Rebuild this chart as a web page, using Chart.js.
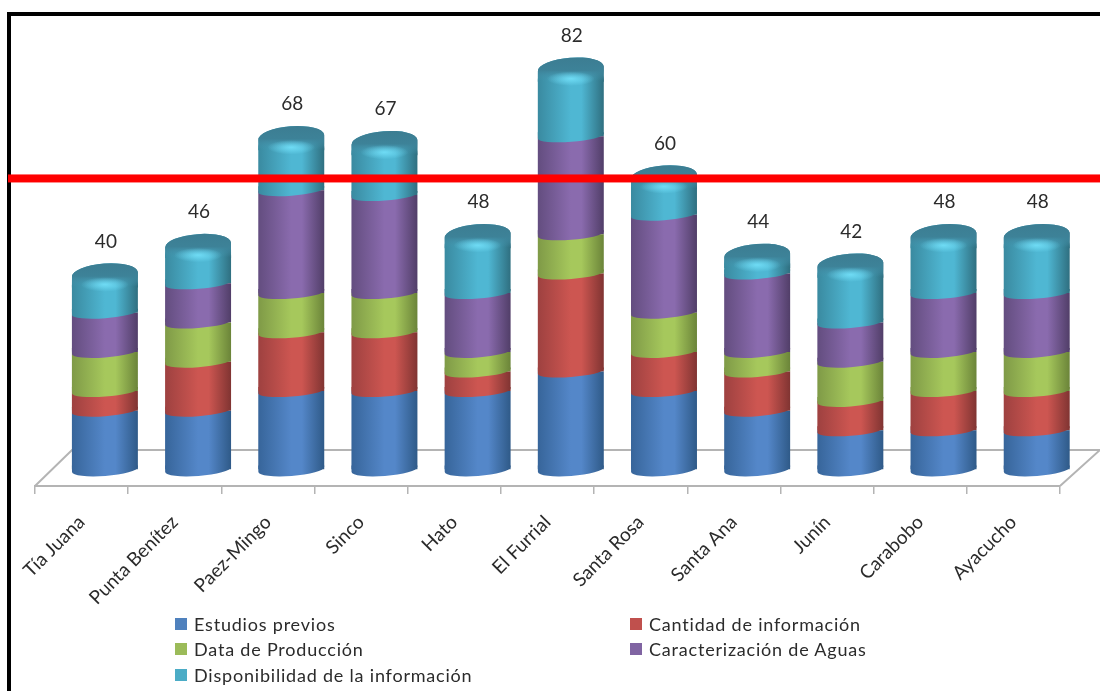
<!DOCTYPE html>
<html>
<head>
<meta charset="utf-8">
<script src="https://cdn.jsdelivr.net/npm/chart.js@4"></script>
<style>
    html, body { margin: 0; padding: 0; background: #fff; overflow: hidden; }
    #wrap { position: relative; width: 1100px; height: 691px; }
    #legend div { position: absolute; font: 18px Lato, sans-serif; letter-spacing: 0.8px; color: #2b2b2b; white-space: nowrap; line-height: 22px; }
    #legend i { position: absolute; left: -19px; top: 5px; width: 12px; height: 12px; }
</style>
</head>
<body>
<div id="wrap">
    <canvas id="chart" width="1100" height="691"></canvas>
    <div id="legend"></div>
</div>
<script>
const categories = ["Tía Juana", "Punta Benítez", "Paez-Mingo", "Sinco", "Hato", "El Furrial", "Santa Rosa", "Santa Ana", "Junín", "Carabobo", "Ayacucho"];
const estudiosPrevios = [12, 12, 16, 16, 16, 20, 16, 12, 8, 8, 8];
const cantidadInformacion = [4, 10, 12, 12, 4, 20, 8, 8, 6, 8, 8];
const dataProduccion = [8, 8, 8, 8, 4, 8, 8, 4, 8, 8, 8];
const caracterizacionAguas = [8, 8, 21, 20, 12, 20, 20, 16, 8, 12, 12];
const disponibilidad = [8, 8, 11, 11, 12, 14, 8, 4, 12, 12, 12];
const totals = [40, 46, 68, 67, 48, 82, 60, 44, 42, 48, 48];
const referenceLine = 59.5;

const seriesNames = ["Estudios previos", "Cantidad de información", "Data de Producción", "Caracterización de Aguas", "Disponibilidad de la información"];
const seriesValues = [estudiosPrevios, cantidadInformacion, dataProduccion, caracterizacionAguas, disponibilidad];
const swatches = ["#4f81bd", "#c0504d", "#9bbb59", "#8064a2", "#4bacc6"];
const shades = [
    ["#37659a", "#5487c9", "#5487c9", "#2f5a88"],
    ["#9e4140", "#cd5651", "#cd5651", "#803432"],
    ["#7f9a47", "#a6c85c", "#a6c85c", "#6b8439"],
    ["#634d7f", "#8a6bae", "#8a6bae", "#513e68"],
    ["#3a8aa0", "#4fb7d3", "#4fb7d3", "#2f6f80"]
];

// the bars stand in the middle of the floor, behind the front axis line
const shiftX = 23.3;
const shiftY = 16.5;
const tilt = -0.075;
const labelFont = "19px Lato, sans-serif";

function barGradient(ctx, x, half, colors) {
    const g = ctx.createLinearGradient(x - half, 0, x + half, 0);
    g.addColorStop(0, colors[0]);
    g.addColorStop(0.5, colors[1]);
    g.addColorStop(0.66, colors[2]);
    g.addColorStop(1, colors[3]);
    return g;
}

function drawLowerArc(ctx, bar, colors, ry) {
    const half = bar.width / 2;
    ctx.save();
    ctx.fillStyle = barGradient(ctx, bar.x, half, colors);
    ctx.beginPath();
    ctx.moveTo(bar.x + half, bar.base - 4);
    ctx.ellipse(bar.x, bar.base, half, ry, tilt, 0, Math.PI);
    ctx.lineTo(bar.x - half, bar.base - 4);
    ctx.closePath();
    ctx.fill();
    ctx.restore();
}

function capPath(ctx, bar, bodyDepth) {
    const half = bar.width / 2;
    ctx.beginPath();
    ctx.ellipse(bar.x, bar.y + 1, half, 11, tilt, Math.PI, Math.PI * 2);
    ctx.lineTo(bar.x + half, bar.y + bodyDepth);
    ctx.lineTo(bar.x - half, bar.y + bodyDepth);
    ctx.closePath();
}

function drawCap(ctx, bar, colors) {
    const half = bar.width / 2;
    const depth = Math.min(14, bar.height + 2);
    ctx.save();
    ctx.fillStyle = barGradient(ctx, bar.x, half, colors);
    capPath(ctx, bar, depth);
    ctx.fill();
    // dark top melts into the body
    const dark = ctx.createLinearGradient(0, bar.y - 10, 0, bar.y + 13);
    dark.addColorStop(0, "#3c7d92");
    dark.addColorStop(0.55, "#3d8298");
    dark.addColorStop(1, "rgba(70,150,175,0)");
    ctx.fillStyle = dark;
    capPath(ctx, bar, depth);
    ctx.fill();
    ctx.restore();
    ctx.save();
    ctx.translate(bar.x, bar.y + 11);
    ctx.scale(1, 0.3);
    const glow = ctx.createRadialGradient(0, 0, 1, 0, 0, 24);
    glow.addColorStop(0, "rgba(115,225,250,0.85)");
    glow.addColorStop(1, "rgba(115,225,250,0)");
    ctx.fillStyle = glow;
    ctx.beginPath();
    ctx.arc(0, 0, 24, 0, Math.PI * 2);
    ctx.fill();
    ctx.restore();
}

const cylinders = {
    id: "cylinders",
    beforeDraw(chart) {
        const { ctx, chartArea } = chart;
        const b = chartArea.bottom;
        // outer frame of the slide
        ctx.save();
        ctx.fillStyle = "#000";
        ctx.fillRect(7, 12, 1093, 4);
        ctx.fillRect(7, 12, 4, 679);
        ctx.restore();
        // floor
        ctx.save();
        ctx.strokeStyle = "#b4b4b4";
        ctx.lineWidth = 2;
        ctx.beginPath();
        ctx.moveTo(chartArea.left, b);
        ctx.lineTo(chartArea.left + 37, b - 36);
        ctx.lineTo(1100, b - 36);
        ctx.moveTo(chartArea.right, b);
        ctx.lineTo(chartArea.right + 40, b - 36);
        ctx.stroke();
        ctx.restore();
    },
    beforeDatasetsDraw(chart) {
        chart.ctx.save();
        chart.ctx.translate(shiftX, -shiftY);
    },
    afterDatasetsDraw(chart) {
        const { ctx, scales } = chart;
        // Chart.js paints the top of the stack first, so the curved
        // joints go on afterwards, from the bottom up
        seriesNames.forEach((name, i) => {
            chart.getDatasetMeta(i).data.forEach((bar) => drawLowerArc(ctx, bar, shades[i], i === 0 ? 6.5 : 5.5));
        });
        const top = seriesNames.length - 1;
        chart.getDatasetMeta(top).data.forEach((bar) => drawCap(ctx, bar, shades[top]));
        ctx.restore();
        // totals over the cylinders
        ctx.save();
        ctx.font = labelFont;
        ctx.fillStyle = "#2b2b2b";
        ctx.textAlign = "center";
        ctx.textBaseline = "middle";
        totals.forEach((t, i) => {
            ctx.fillText(String(t), scales.x.getPixelForValue(i) + shiftX + 1, scales.y.getPixelForValue(t) - shiftY - 32);
        });
        ctx.restore();
        // red reference line
        ctx.save();
        ctx.fillStyle = "#ff0000";
        const y = scales.y.getPixelForValue(referenceLine) - shiftY;
        ctx.fillRect(8, y - 3.5, 1092, 8);
        ctx.restore();
    }
};

const datasets = seriesNames.map((name, i) => ({
    label: name,
    data: seriesValues[i],
    backgroundColor(c) {
        const chart = c.chart;
        if (!chart.chartArea || c.dataIndex === undefined) return swatches[i];
        const band = (chart.chartArea.right - chart.chartArea.left) / categories.length;
        const x = chart.scales.x.getPixelForValue(c.dataIndex);
        return barGradient(chart.ctx, x, band * 0.354, shades[i]);
    },
    borderWidth: 0,
    borderRadius: i === seriesNames.length - 1 ? { topLeft: 12, topRight: 12 } : 0,
    borderSkipped: false,
    categoryPercentage: 1,
    barPercentage: 0.708
}));

new Chart(document.getElementById("chart").getContext("2d"), {
    type: "bar",
    data: { labels: categories, datasets: datasets },
    plugins: [cylinders],
    options: {
        responsive: false,
        animation: false,
        layout: { padding: { left: 35, right: 40, top: 45, bottom: 0 } },
        plugins: {
            legend: { display: false },
            tooltip: { enabled: false }
        },
        scales: {
            x: {
                stacked: true,
                afterFit(scale) {
                    scale.height = 205;
                    scale.paddingLeft = 0;
                    scale.paddingRight = 0;
                },
                border: { color: "#b4b4b4", width: 2 },
                grid: { drawOnChartArea: false, drawTicks: true, tickLength: 8, color: "#b4b4b4", lineWidth: 1.5, offset: true },
                ticks: {
                    autoSkip: false,
                    minRotation: 45,
                    maxRotation: 45,
                    padding: 17,
                    color: "#2b2b2b",
                    font: { family: "Lato, sans-serif", size: 19 }
                }
            },
            y: {
                stacked: true,
                display: false,
                min: 0,
                max: 90
            }
        }
    }
});

// legend, two columns like the original
const legendEl = document.getElementById("legend");
const legendLeft = [194, 649];
const legendTop = [613, 638, 664];
seriesNames.forEach((name, i) => {
    const row = document.createElement("div");
    row.style.left = legendLeft[i % 2] + "px";
    row.style.top = legendTop[Math.floor(i / 2)] + "px";
    const box = document.createElement("i");
    box.style.background = swatches[i];
    row.appendChild(box);
    row.appendChild(document.createTextNode(name));
    legendEl.appendChild(row);
});
</script>
</body>
</html>
